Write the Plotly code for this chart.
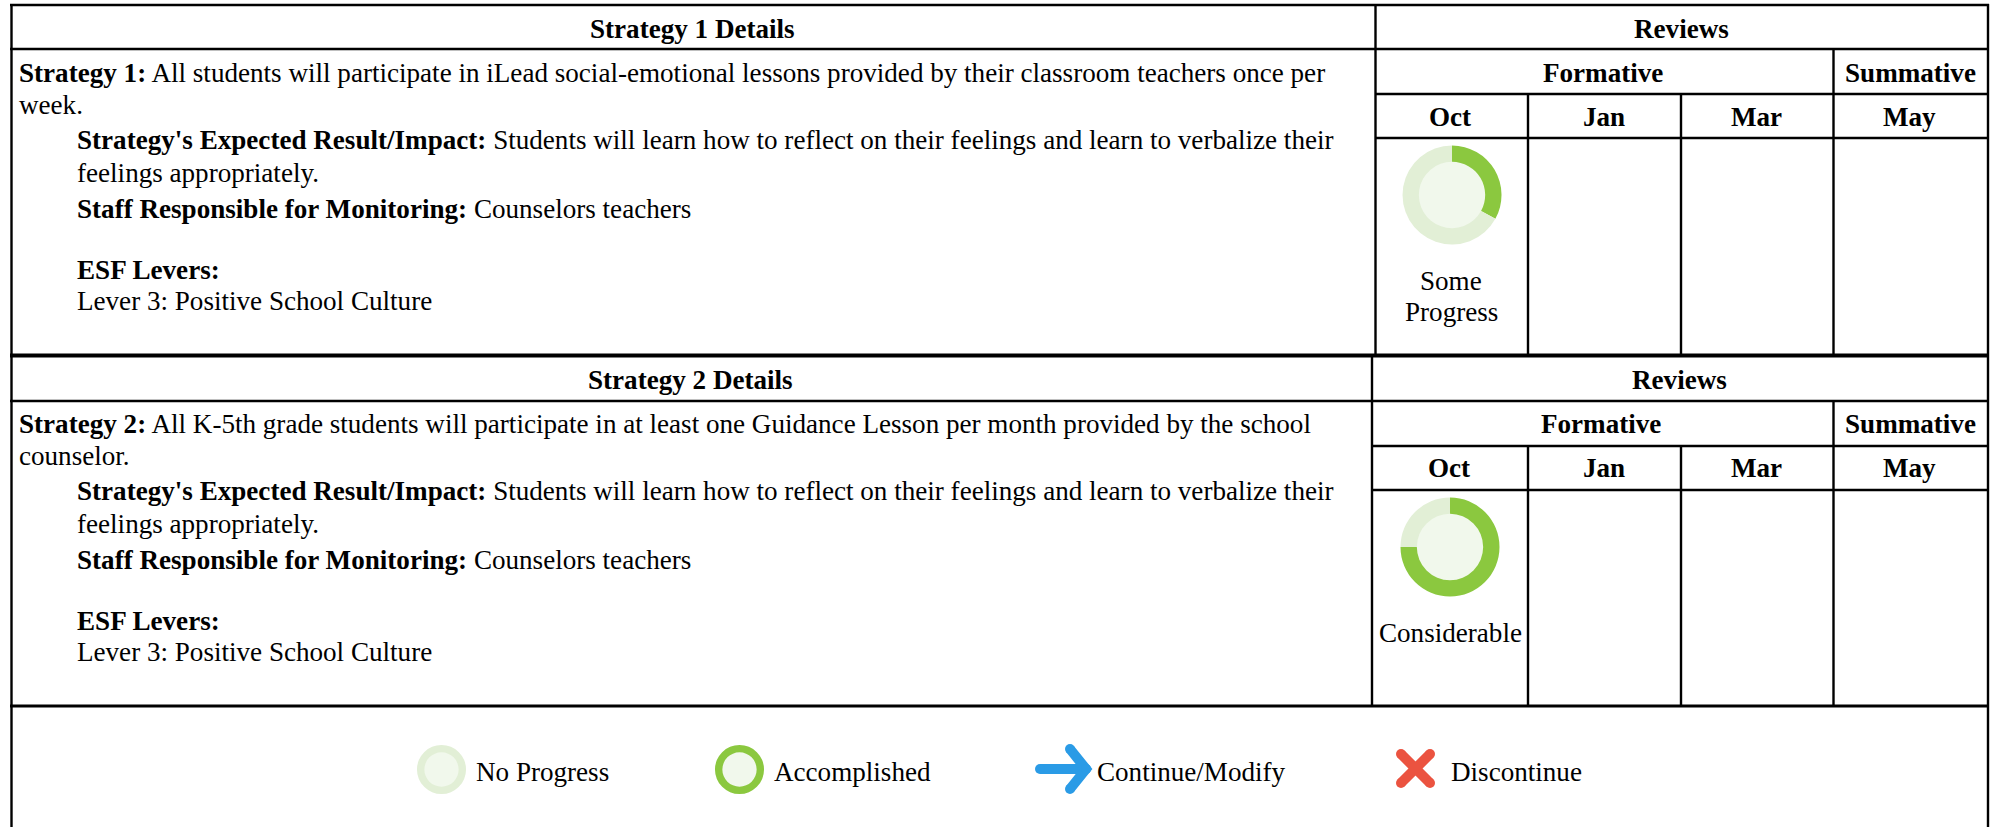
import plotly.graph_objects as go

W, H = 1997, 827
FONT = "Liberation Serif"
FS = 27.1

months = ["Oct", "Jan", "Mar", "May"]
month_x = [1451, 1604, 1756, 1909]
strategy_titles = ["Strategy 1 Details", "Strategy 2 Details"]
strategy_lines_1 = [
    "<b>Strategy 1:</b> All students will participate in iLead social-emotional lessons provided by their classroom teachers once per",
    "week.",
]
strategy_lines_2 = [
    "<b>Strategy 2:</b> All K-5th grade students will participate in at least one Guidance Lesson per month provided by the school",
    "counselor.",
]
detail_lines = [
    "<b>Strategy's Expected Result/Impact:</b> Students will learn how to reflect on their feelings and learn to verbalize their",
    "feelings appropriately.",
    "<b>Staff Responsible for Monitoring:</b> Counselors teachers",
    "<b>ESF Levers:</b>",
    "Lever 3: Positive School Culture",
]
review_pct_done = [33, 75]
review_labels = [["Some", "Progress"], ["Considerable"]]
legend_labels = ["No Progress", "Accomplished", "Continue/Modify", "Discontinue"]
GREEN, PALE, CORE = "#8BC83F", "#E2EFD6", "#F1F8EC"
BLUE, RED = "#2A9BE6", "#EB5340"

fig = go.Figure()


def hline(y, x0, x1, w=2.4):
    fig.add_shape(type="line", xref="x", yref="y", x0=x0, x1=x1, y0=y, y1=y,
                  line=dict(color="#000", width=w))


def vline(x, y0, y1, w=2.4):
    fig.add_shape(type="line", xref="x", yref="y", x0=x, x1=x, y0=y0, y1=y1,
                  line=dict(color="#000", width=w))


def text(x, y, s, anchor="center"):
    fig.add_annotation(x=x, y=y, xref="x", yref="y", text=s, showarrow=False,
                       xanchor=anchor, yanchor="middle", align=anchor,
                       font=dict(family=FONT, size=FS, color="#000"),
                       borderpad=0, borderwidth=0)


def ring(cx, cy, d, hole, done):
    fig.add_shape(type="circle", xref="x", yref="y", layer="below",
                  x0=cx - d * hole / 2 - 1, x1=cx + d * hole / 2 + 1,
                  y0=cy - d * hole / 2 - 1, y1=cy + d * hole / 2 + 1,
                  fillcolor=CORE, line=dict(width=0))
    fig.add_trace(go.Pie(
        values=[done, 100 - done], hole=hole, sort=False, direction="clockwise",
        rotation=0, textinfo="none", hoverinfo="skip", showlegend=False,
        marker=dict(colors=[GREEN, PALE], line=dict(width=0)),
        domain=dict(x=[(cx - d / 2) / W, (cx + d / 2) / W],
                    y=[1 - (cy + d / 2) / H, 1 - (cy - d / 2) / H]),
    ))


# frame
vline(11.5, 4, 827)
vline(1988, 4, 827)
hline(5, 10, 1989)
hline(49, 10, 1989)
hline(355.5, 10, 1989, 4)
hline(401, 10, 1989)
hline(706, 10, 1989, 3)

# table 1
vline(1375.5, 5, 355)
hline(94, 1375, 1989)
hline(138, 1375, 1989)
for x in (1528, 1681):
    vline(x, 94, 355)
vline(1833.5, 49, 355)

# table 2
vline(1372, 356, 706)
hline(446, 1372, 1989)
hline(490, 1372, 1989)
for x in (1528, 1681):
    vline(x, 446, 706)
vline(1833.5, 401, 706)

# headings
for i, (off, lx, rx, ox, fx) in enumerate([(0, 692, 1681, 1450, 1603), (351, 690, 1679, 1449, 1601)]):
    text(lx, 29 + off, f"<b>{strategy_titles[i]}</b>")
    text(rx, 29 + off, "<b>Reviews</b>")
    text(fx, 73 + off, "<b>Formative</b>")
    text(1910, 73 + off, "<b>Summative</b>")
    for j, (m, mx) in enumerate(zip(months, month_x)):
        text(ox if j == 0 else mx, 117 + off, f"<b>{m}</b>")

# left column
for off, lines in ((0, strategy_lines_1), (351, strategy_lines_2)):
    text(19, 73 + off, lines[0], "left")
    text(19, 105 + off, lines[1], "left")
    for y, s in zip((140, 173, 209, 270, 301), detail_lines):
        text(77, y + off, s, "left")

# progress rings
ring(1452, 195, 99, 0.67, review_pct_done[0])
ring(1450, 547, 99, 0.67, review_pct_done[1])
text(1451, 281, review_labels[0][0])
text(1451, 312, review_labels[0][1])
text(1450, 633, review_labels[1][0])

# legend
ring(441.5, 769.5, 49, 0.70, 0)
ring(739.5, 769.5, 49, 0.70, 100)
for x, s in zip((476, 774, 1097, 1451), legend_labels):
    text(x, 772, s, "left")

for xs, ys, c in (
    ([1040, 1086], [769, 769], BLUE),
    ([1070, 1086, 1070], [749, 769, 789], BLUE),
    ([1401, 1430], [754, 783], RED),
    ([1430, 1401], [754, 783], RED),
):
    fig.add_trace(go.Scatter(x=xs, y=ys, mode="lines+markers", hoverinfo="skip",
                             showlegend=False, line=dict(color=c, width=10),
                             marker=dict(color=c, size=10, line=dict(width=0))))

fig.update_layout(
    width=W, height=H, margin=dict(l=0, r=0, t=0, b=0),
    paper_bgcolor="white", plot_bgcolor="white",
    xaxis=dict(range=[0, W], visible=False, fixedrange=True),
    yaxis=dict(range=[H, 0], visible=False, fixedrange=True),
)
fig.write_html("out.html", config={"displayModeBar": False},
               post_script="document.body.style.margin='0';document.documentElement.style.overflow='hidden';")
